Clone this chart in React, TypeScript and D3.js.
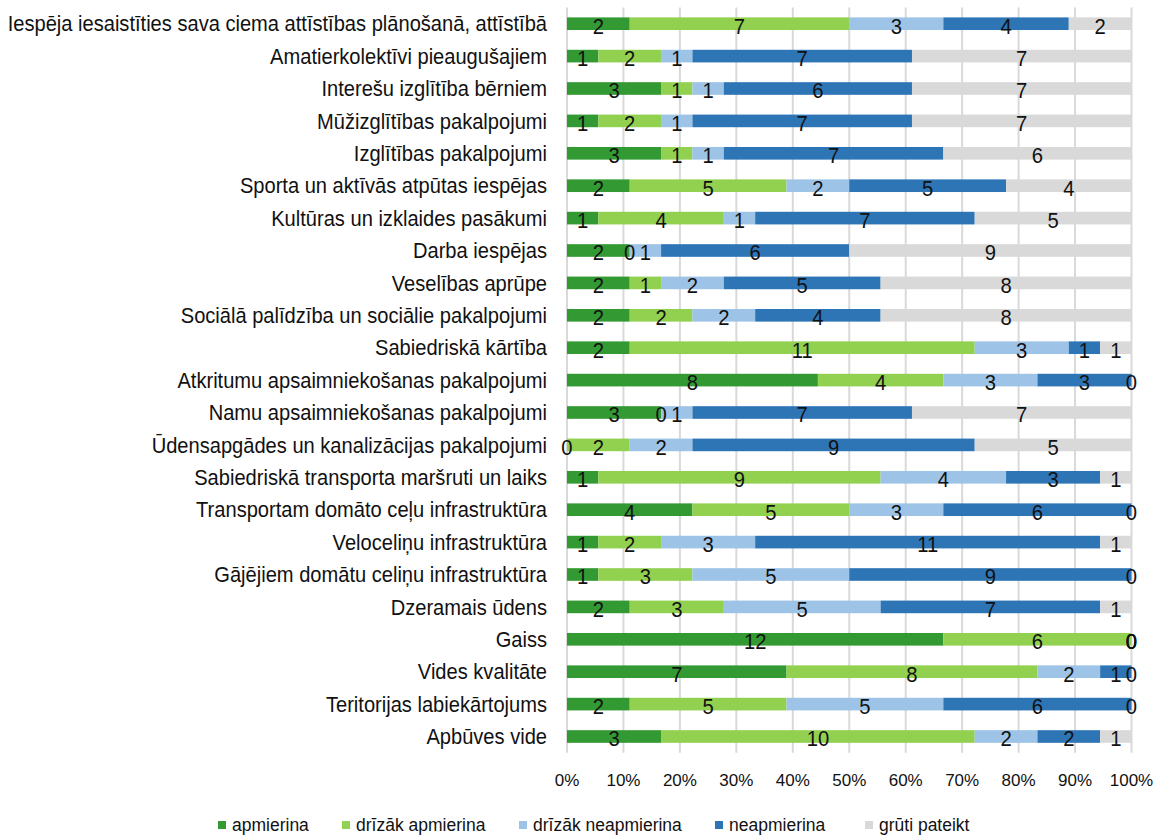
import React from "react";
import * as d3 from "d3";

const categories = [
  "Iespēja iesaistīties sava ciema attīstības plānošanā, attīstībā",
  "Amatierkolektīvi pieaugušajiem",
  "Interešu izglītība bērniem",
  "Mūžizglītības pakalpojumi",
  "Izglītības pakalpojumi",
  "Sporta un aktīvās atpūtas iespējas",
  "Kultūras un izklaides pasākumi",
  "Darba iespējas",
  "Veselības aprūpe",
  "Sociālā palīdzība un sociālie pakalpojumi",
  "Sabiedriskā kārtība",
  "Atkritumu apsaimniekošanas pakalpojumi",
  "Namu apsaimniekošanas pakalpojumi",
  "Ūdensapgādes un kanalizācijas pakalpojumi",
  "Sabiedriskā transporta maršruti un laiks",
  "Transportam domāto ceļu infrastruktūra",
  "Veloceliņu infrastruktūra",
  "Gājējiem domātu celiņu infrastruktūra",
  "Dzeramais ūdens",
  "Gaiss",
  "Vides kvalitāte",
  "Teritorijas labiekārtojums",
  "Apbūves vide",
];

const seriesNames = [
  "apmierina",
  "drīzāk apmierina",
  "drīzāk neapmierina",
  "neapmierina",
  "grūti pateikt",
];

const apmierina = [2, 1, 3, 1, 3, 2, 1, 2, 2, 2, 2, 8, 3, 0, 1, 4, 1, 1, 2, 12, 7, 2, 3];
const drizakApmierina = [7, 2, 1, 2, 1, 5, 4, 0, 1, 2, 11, 4, 0, 2, 9, 5, 2, 3, 3, 6, 8, 5, 10];
const drizakNeapmierina = [3, 1, 1, 1, 1, 2, 1, 1, 2, 2, 3, 3, 1, 2, 4, 3, 3, 5, 5, 0, 2, 5, 2];
const neapmierina = [4, 7, 6, 7, 7, 5, 7, 6, 5, 4, 1, 3, 7, 9, 3, 6, 11, 9, 7, 0, 1, 6, 2];
const grutiPateikt = [2, 7, 7, 7, 6, 4, 5, 9, 8, 8, 1, 0, 7, 5, 1, 0, 1, 0, 1, 0, 0, 0, 1];

const tickValues = [0, 0.1, 0.2, 0.3, 0.4, 0.5, 0.6, 0.7, 0.8, 0.9, 1.0];

const colors = ["#339933", "#92D050", "#9DC3E6", "#2E75B6", "#D9D9D9"];

const W = 1162;
const H = 838;
const M = { left: 567, right: 30, top: 7.5, bottom: 85.3 };
const FONT = "'Liberation Sans', Arial, sans-serif";

export default function App() {
  const seriesValues = [apmierina, drizakApmierina, drizakNeapmierina, neapmierina, grutiPateikt];
  const rows = categories.map((c, i) => {
    const o: any = { cat: c };
    seriesNames.forEach((s, j) => (o[s] = seriesValues[j][i]));
    return o;
  });
  const stack = d3.stack<any>().keys(seriesNames).offset(d3.stackOffsetExpand);
  const stacked = stack(rows);

  const x = d3.scaleLinear().domain([0, 1]).range([M.left, W - M.right - 0.5]);
  const y = d3
    .scaleBand<string>()
    .domain(categories)
    .range([M.top, H - M.bottom])
    .paddingInner(0.61)
    .paddingOuter(0.305);
  const bh = y.bandwidth();
  const fmt = d3.format(".0%");

  const legendX = [218, 342, 519, 715, 865];

  return (
    <svg
      width={W}
      height={H}
      style={{ position: "absolute", left: 0, top: 0, background: "#fff" }}
      fontFamily={FONT}
    >
      {tickValues.map((t) => (
        <line
          key={"g" + t}
          x1={x(t)}
          x2={x(t)}
          y1={M.top}
          y2={H - M.bottom}
          stroke="#D9D9D9"
          strokeWidth={2}
        />
      ))}
      {stacked.map((s, si) =>
        s.map((d, i) => (
          <rect
            key={s.key + i}
            x={x(d[0])}
            y={y(categories[i])!}
            width={Math.max(0, x(d[1]) - x(d[0]))}
            height={bh}
            fill={colors[si]}
          />
        ))
      )}
      {stacked.map((s, si) =>
        s.map((d, i) => (
          <text
            key={"l" + s.key + i}
            transform={`translate(${(x(d[0]) + x(d[1])) / 2},${y(categories[i])! + bh / 2 + 2}) scale(0.92,1)`}
            textAnchor="middle"
            dominantBaseline="central"
            fontSize={22}
            fill="#111"
          >
            {seriesValues[si][i]}
          </text>
        ))
      )}
      {categories.map((c) => (
        <text
          key={"c" + c}
          transform={`translate(547,${y(c)! + bh / 2}) scale(0.935,1)`}
          textAnchor="end"
          dominantBaseline="central"
          fontSize={21.5}
          fill="#111"
        >
          {c}
        </text>
      ))}
      {tickValues.map((t) => (
        <text
          key={"t" + t}
          x={x(t)}
          y={780}
          textAnchor="middle"
          dominantBaseline="central"
          fontSize={17}
          fill="#111"
        >
          {fmt(t)}
        </text>
      ))}
      {seriesNames.map((s, i) => (
        <g key={"lg" + s} transform={`translate(${legendX[i]},825)`}>
          <rect x={0} y={-4} width={8} height={8} fill={colors[i]} />
          <text x={14} y={0} dominantBaseline="central" fontSize={17.5} fill="#111">
            {s}
          </text>
        </g>
      ))}
    </svg>
  );
}
